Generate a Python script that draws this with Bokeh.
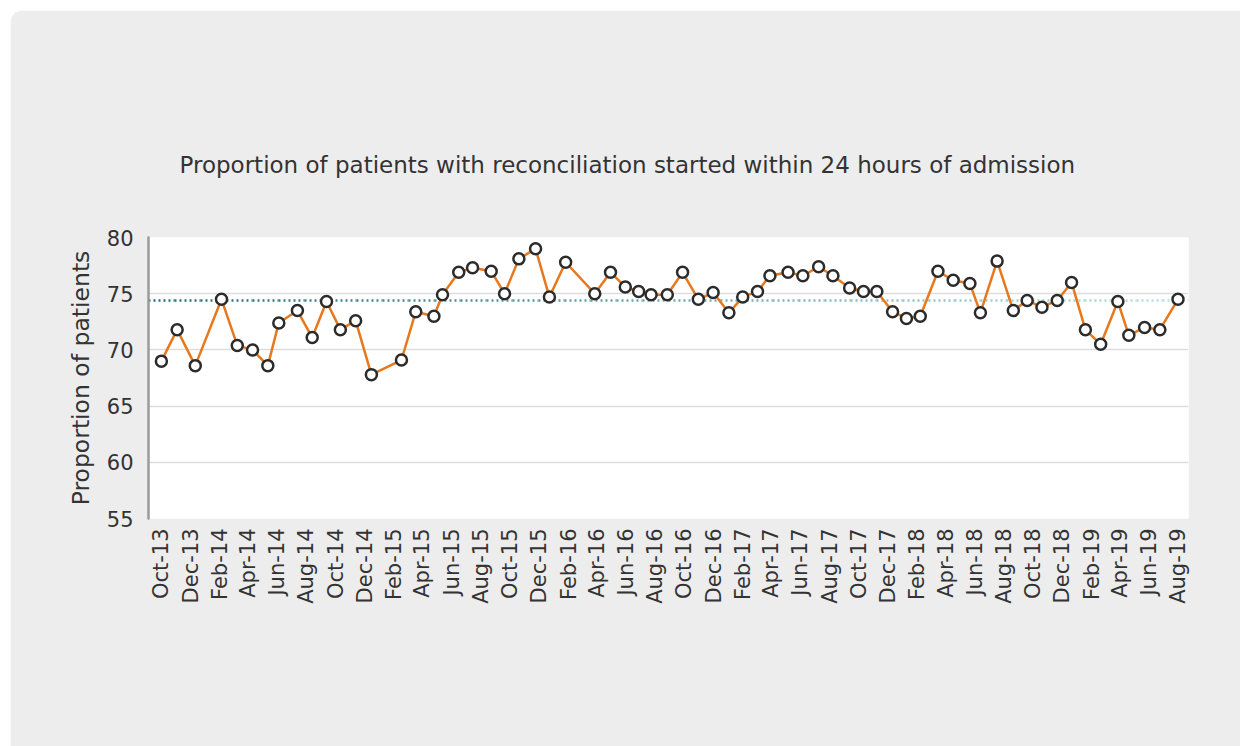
import pandas as pd
from datetime import datetime
from bokeh.plotting import figure
from bokeh.models import Range1d, FixedTicker, MonthsTicker, DatetimeTickFormatter, ColumnDataSource
from bokeh.embed import file_html
from bokeh.resources import INLINE

# ---- data ----
dates = [
    "2013-10-01", "2013-11-03", "2013-12-11", "2014-02-04", "2014-03-09", "2014-04-10",
    "2014-05-12", "2014-06-04", "2014-07-13", "2014-08-13", "2014-09-12", "2014-10-11",
    "2014-11-12", "2014-12-15", "2015-02-16", "2015-03-18", "2015-04-25", "2015-05-13",
    "2015-06-16", "2015-07-15", "2015-08-23", "2015-09-20", "2015-10-20", "2015-11-24",
    "2015-12-23", "2016-01-26", "2016-03-27", "2016-04-29", "2016-05-30", "2016-06-27",
    "2016-07-23", "2016-08-26", "2016-09-27", "2016-10-30", "2016-11-30", "2017-01-02",
    "2017-01-31", "2017-03-03", "2017-03-29", "2017-05-06", "2017-06-06", "2017-07-09",
    "2017-08-08", "2017-09-12", "2017-10-11", "2017-11-08", "2017-12-11", "2018-01-09",
    "2018-02-07", "2018-03-16", "2018-04-17", "2018-05-22", "2018-06-13", "2018-07-18",
    "2018-08-21", "2018-09-19", "2018-10-20", "2018-11-21", "2018-12-21", "2019-01-19",
    "2019-02-20", "2019-03-28", "2019-04-20", "2019-05-23", "2019-06-24", "2019-08-01",
]
values = [
    69.0, 71.8, 68.6, 74.5, 70.4, 70.0,
    68.6, 72.4, 73.5, 71.1, 74.3, 71.8,
    72.6, 67.8, 69.1, 73.4, 73.0, 74.9,
    76.9, 77.3, 77.0, 75.0, 78.1, 79.0,
    74.7, 77.8, 75.0, 76.9, 75.6, 75.2,
    74.9, 74.9, 76.9, 74.5, 75.1, 73.3,
    74.7, 75.2, 76.6, 76.9, 76.6, 77.4,
    76.6, 75.5, 75.2, 75.2, 73.4, 72.8,
    73.0, 77.0, 76.2, 75.9, 73.3, 77.9,
    73.5, 74.4, 73.8, 74.4, 76.0, 71.8,
    70.5, 74.3, 71.3, 72.0, 71.8, 74.5,
]
mean_value = 74.4
y_ticks = [55, 60, 65, 70, 75, 80]
label_months = [1, 3, 5, 7, 9, 11]   # Feb, Apr, Jun, Aug, Oct, Dec (0-based)
title_text = "Proportion of patients with reconciliation started within 24 hours of admission"
y_label = "Proportion of patients"

FONT = "DejaVu Sans"
TEXT = "#333333"
BG = "#ededed"

x_start = datetime(2013, 9, 4)
x_end = datetime(2019, 8, 23)

p = figure(
    width=1230, height=736, x_axis_type="datetime",
    x_range=Range1d(x_start, x_end), y_range=Range1d(55, 80),
    output_backend="svg", toolbar_location=None,
    min_border_left=138, min_border_right=52, min_border_top=227, min_border_bottom=228,
    margin=(10, 0, 0, 10),
)
p.styles = {"border-radius": "14px 0 0 0", "overflow": "hidden"}
p.background_fill_color = "white"
p.border_fill_color = BG
p.outline_line_color = None

# title
p.title.text = title_text
p.title.text_font = FONT
p.title.text_font_size = "23px"
p.title.text_font_style = "normal"
p.title.text_color = TEXT
p.title.align = "left"
p.title.offset = 31
p.title.standoff = 119

# grid
p.xgrid.grid_line_color = None
p.ygrid.grid_line_color = "#dddddd"
p.ygrid.grid_line_width = 1.5

# y axis
p.yaxis.ticker = FixedTicker(ticks=y_ticks)
p.yaxis.axis_label = y_label
p.yaxis.axis_label_text_font = FONT
p.yaxis.axis_label_text_font_size = "23.5px"
p.yaxis.axis_label_text_font_style = "normal"
p.yaxis.axis_label_text_color = TEXT
p.yaxis.axis_label_standoff = 9
p.yaxis.major_label_text_font = FONT
p.yaxis.major_label_text_font_size = "21px"
p.yaxis.major_label_text_color = TEXT
p.yaxis.major_tick_out = 0
p.yaxis.major_tick_in = 0
p.yaxis.major_label_standoff = 15
p.yaxis.axis_line_color = "#9a9a9a"
p.yaxis.axis_line_width = 2.5
p.yaxis.axis_line_cap = "round"
p.yaxis.major_tick_line_color = None
p.yaxis.minor_tick_line_color = None

# x axis
p.xaxis.ticker = MonthsTicker(months=label_months)
fmt = "%b-%y"
p.xaxis.formatter = DatetimeTickFormatter(
    days=fmt, months=fmt, years=fmt, hours=fmt, minutes=fmt, seconds=fmt,
    minsec=fmt, hourmin=fmt, milliseconds=fmt, microseconds=fmt,
)
p.xaxis.major_label_orientation = 1.5707963
p.xaxis.major_label_text_font = FONT
p.xaxis.major_label_text_font_size = "21px"
p.xaxis.major_label_text_color = TEXT
p.xaxis.major_tick_out = 0
p.xaxis.major_tick_in = 0
p.xaxis.major_label_standoff = 10
p.xaxis.axis_line_color = None
p.xaxis.major_tick_line_color = None
p.xaxis.minor_tick_line_color = None

# mean line: dotted, fading from dark teal to light teal
n_seg = 40
c0 = (35, 112, 122)
c1 = (178, 224, 224)
span_ms = (x_end - x_start).total_seconds() * 1000.0
start_ms = pd.Timestamp(x_start).value / 1e6
xs, ys, cols = [], [], []
for i in range(n_seg):
    a = start_ms + span_ms * i / n_seg
    b = start_ms + span_ms * (i + 1) / n_seg
    t = i / (n_seg - 1)
    c = tuple(int(round(c0[k] + (c1[k] - c0[k]) * t)) for k in range(3))
    xs.append([a, b])
    ys.append([mean_value, mean_value])
    cols.append("#%02x%02x%02x" % c)
p.multi_line(xs=xs, ys=ys, line_color=cols, line_width=2.5, line_dash="2 3")

src = ColumnDataSource(dict(x=pd.to_datetime(dates), y=values))
p.line("x", "y", source=src, line_color="#e8781e", line_width=2.5)
p.scatter("x", "y", source=src, size=11, fill_color="white",
          line_color="#2b2b2b", line_width=2.5)

open("out.html", "w").write(file_html(p, INLINE))
